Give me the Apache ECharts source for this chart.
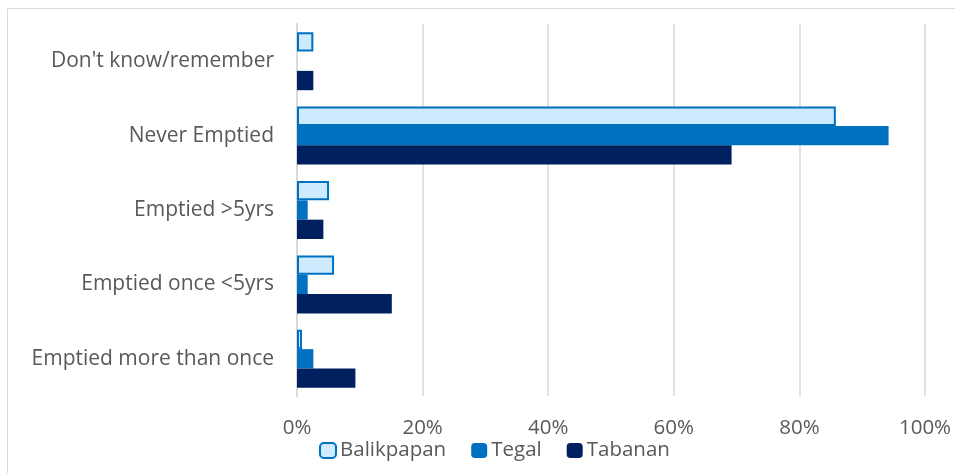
<!DOCTYPE html>
<html><head><meta charset="utf-8">
<script src="https://cdn.jsdelivr.net/npm/echarts@6/dist/echarts.min.js"></script>
<style>html,body{margin:0;padding:0;background:#fff}#c{width:955px;height:473px}</style>
</head><body><div id="c"></div>
<script>
const categories = ["Don't know/remember", "Never Emptied", "Emptied >5yrs", "Emptied once <5yrs", "Emptied more than once"];
const balikpapan = [2.6, 85.8, 5.1, 5.9, 0.8];
const tegal = [0, 94.2, 1.7, 1.7, 2.6];
const tabanan = [2.6, 69.2, 4.2, 15.1, 9.3];
const seriesNames = ["Balikpapan", "Tegal", "Tabanan"];
const font = "'Open Sans', sans-serif";
const chart = echarts.init(document.getElementById('c'));
chart.setOption({
  animation: false,
  graphic: [{type: 'rect', shape: {x: 7.5, y: 8.5, width: 1200, height: 1000}, style: {fill: 'none', stroke: '#d9d9d9', lineWidth: 1}, silent: true}],
  grid: {left: 297, right: 30, top: 24, bottom: 77},
  legend: {
    bottom: 7, left: 314, itemWidth: 16, itemHeight: 15, itemGap: 25,
    textStyle: {fontFamily: font, fontSize: 20.5, color: '#595959', padding: [0, 0, 0, -1]},
    data: seriesNames
  },
  xAxis: {
    type: 'value', min: 0, max: 100, interval: 20,
    axisLabel: {formatter: '{value}%', fontFamily: font, fontSize: 20.5, color: '#595959', margin: 22},
    axisLine: {show: false}, axisTick: {show: false},
    splitLine: {lineStyle: {color: '#d9d9d9', width: 1.5}}
  },
  yAxis: {
    type: 'category', data: categories, inverse: true,
    axisLabel: {fontFamily: font, fontSize: 21, color: '#595959', margin: 23},
    axisLine: {lineStyle: {color: '#d9d9d9', width: 2}}, axisTick: {show: false}
  },
  series: [
    {name: seriesNames[0], type: 'bar', data: balikpapan, barCategoryGap: '22%', barGap: '0%',
     itemStyle: {color: '#cdeaff', borderColor: '#0070c0', borderWidth: 2}},
    {name: seriesNames[1], type: 'bar', data: tegal, barGap: '0%', itemStyle: {color: '#0070c0'}},
    {name: seriesNames[2], type: 'bar', data: tabanan, barGap: '0%', itemStyle: {color: '#002060'}}
  ]
});
</script></body></html>
